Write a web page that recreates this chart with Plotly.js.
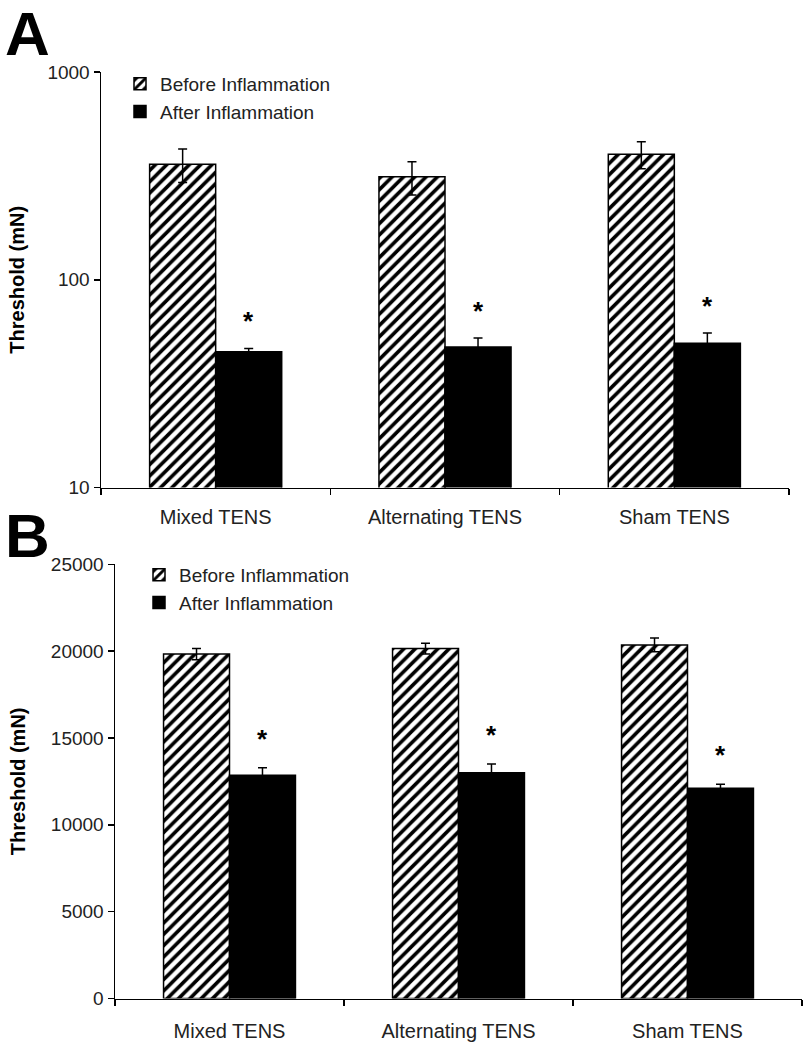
<!DOCTYPE html>
<html>
<head>
<meta charset="utf-8">
<script src="https://cdn.plot.ly/plotly-3.0.1.min.js"></script>
<style>html,body{margin:0;padding:0;background:#fff;}#chart{width:812px;height:1050px;}</style>
</head>
<body>
<div id="chart"></div>
<script>
// ---- data ----
var categories = ["Mixed TENS", "Alternating TENS", "Sham TENS"];
var seriesNames = ["Before Inflammation", "After Inflammation"];

// Panel A (log scale), threshold in mN
var aBefore = [360, 313, 402];
var aBeforeErr = [66, 57, 60];
var aAfter = [45, 47.5, 49.5];
var aAfterErr = [1.7, 5, 5.9];
var aTickVals = [10, 100, 1000];

// Panel B (linear scale), threshold in mN
var bBefore = [19830, 20150, 20360];
var bBeforeErr = [320, 310, 400];
var bAfter = [12850, 13000, 12100];
var bAfterErr = [440, 500, 240];
var bTickVals = [0, 5000, 10000, 15000, 20000, 25000];

var sigMark = "*";
var panelLabels = ["A", "B"];
var yTitle = "Threshold (mN)";

// ---- styling ----
var W = 812, H = 1050;
var FONT = "Liberation Sans, Arial, sans-serif";
var xDomA = [101 / W, 789 / W], yDomA = [1 - 487.5 / H, 1 - 72 / H];
var xDomB = [115 / W, 802 / W], yDomB = [1 - 998.5 / H, 1 - 564.3 / H];
var BARGAP = 0.424;

var hatch = {shape: "/", fgcolor: "#000", bgcolor: "#fff", size: 8, solidity: 0.45};

function barTrace(name, x, y, err, xa, ya, leg, isHatch) {
  return {
    type: "bar", name: name, x: x, y: y,
    xaxis: xa, yaxis: ya, legend: leg, showlegend: true,
    marker: isHatch ? {color: "#fff", pattern: hatch, line: {color: "#000", width: 1.5}}
                    : {color: "#000", line: {color: "#000", width: 1.5}},
    error_y: {type: "data", array: err, visible: true, color: "#000", thickness: 1.5, width: 4.5},
    hoverinfo: "skip"
  };
}

var data = [
  barTrace(seriesNames[0], categories, aBefore, aBeforeErr, "x", "y", "legend", true),
  barTrace(seriesNames[1], categories, aAfter, aAfterErr, "x", "y", "legend", false),
  barTrace(seriesNames[0], categories, bBefore, bBeforeErr, "x2", "y2", "legend2", true),
  barTrace(seriesNames[1], categories, bAfter, bAfterErr, "x2", "y2", "legend2", false)
];

// offset of the "after" bar center from the category center, derived from domain & bargap
function afterShift(dom) {
  var catPx = (dom[1] - dom[0]) * W / categories.length;
  return catPx * (1 - BARGAP) / 4;
}

var starFont = {family: FONT, size: 26, color: "#000", weight: "bold"};
var annotations = [];
categories.forEach(function (c, i) {
  annotations.push({
    x: c, y: Math.log10(aAfter[i] + aAfterErr[i]), xref: "x", yref: "y",
    text: sigMark, showarrow: false, xanchor: "center", yanchor: "middle",
    xshift: afterShift(xDomA), yshift: 27, font: starFont
  });
  annotations.push({
    x: c, y: bAfter[i] + bAfterErr[i], xref: "x2", yref: "y2",
    text: sigMark, showarrow: false, xanchor: "center", yanchor: "middle",
    xshift: afterShift(xDomB), yshift: 29, font: starFont
  });
});
annotations.push({
  text: "<b>" + panelLabels[0] + "</b>", xref: "paper", yref: "paper",
  x: 3 / W, y: 1 + 3 / H, xanchor: "left", yanchor: "top", showarrow: false,
  font: {family: FONT, size: 62, color: "#000"}
});
annotations.push({
  text: "<b>" + panelLabels[1] + "</b>", xref: "paper", yref: "paper",
  x: 3 / W, y: 1 - 499 / H, xanchor: "left", yanchor: "top", showarrow: false,
  font: {family: FONT, size: 62, color: "#000"}
});

var tickFont = {family: FONT, size: 19, color: "#222"};
var catFont = {family: FONT, size: 20, color: "#222"};
var titleFont = {family: FONT, size: 20, color: "#000", weight: "bold"};

function xAxis(dom, anchor, standoff) {
  return {
    domain: dom, anchor: anchor, type: "category",
    showline: true, linecolor: "#000", linewidth: 1.5,
    ticks: "outside", tickson: "boundaries", ticklen: 6, tickcolor: "#000", tickwidth: 1.5,
    ticklabelstandoff: standoff,
    showgrid: false, zeroline: false, tickfont: catFont, fixedrange: true
  };
}

var layout = {
  width: W, height: H,
  margin: {l: 0, r: 0, t: 0, b: 0},
  paper_bgcolor: "#fff", plot_bgcolor: "#fff",
  barmode: "group", bargap: BARGAP, bargroupgap: 0,
  font: {family: FONT, color: "#000"},
  xaxis: xAxis(xDomA, "y", 11),
  xaxis2: xAxis(xDomB, "y2", 14),
  yaxis: {
    domain: yDomA, anchor: "x", type: "log", range: [1, 3],
    tickvals: aTickVals, ticktext: aTickVals.map(String),
    showline: true, linecolor: "#000", linewidth: 1.5,
    ticks: "outside", ticklen: 6, tickcolor: "#000", tickwidth: 1.5,
    showgrid: false, zeroline: false, tickfont: tickFont,
    title: {text: yTitle, font: titleFont, standoff: 17}, fixedrange: true
  },
  yaxis2: {
    domain: yDomB, anchor: "x2", range: [0, 25000],
    tickvals: bTickVals, ticktext: bTickVals.map(String),
    showline: true, linecolor: "#000", linewidth: 1.5,
    ticks: "outside", ticklen: 6, tickcolor: "#000", tickwidth: 1.5,
    showgrid: false, zeroline: false, tickfont: tickFont,
    title: {text: yTitle, font: titleFont, standoff: 20}, fixedrange: true
  },
  legend: {
    x: 120 / W, y: 1 - 65 / H, xanchor: "left", yanchor: "top",
    bgcolor: "rgba(0,0,0,0)", borderwidth: 0,
    font: {family: FONT, size: 19, color: "#222"}, traceorder: "normal",
    itemwidth: 30
  },
  legend2: {
    x: 139 / W, y: 1 - 556 / H, xanchor: "left", yanchor: "top",
    bgcolor: "rgba(0,0,0,0)", borderwidth: 0,
    font: {family: FONT, size: 19, color: "#222"}, traceorder: "normal",
    itemwidth: 30
  },
  annotations: annotations,
  showlegend: true
};

Plotly.newPlot("chart", data, layout, {displayModeBar: false, staticPlot: true});
</script>
</body>
</html>
